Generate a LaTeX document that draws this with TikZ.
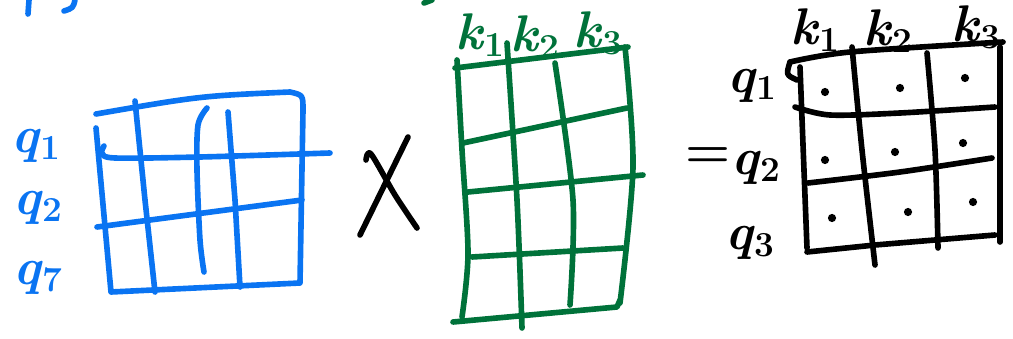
\documentclass[tikz,border=0pt]{standalone}
\usepackage{fontspec}
\usepackage{tikz}

\definecolor{penblue}{HTML}{0A74F2}
\definecolor{pengreen}{HTML}{00723A}

\newcommand{\sublbl}[2]{\textit{#1}\raisebox{-0.3ex}{\fontsize{30}{30}\selectfont #2}}

\tikzset{
  pen/.style={line width=4.8pt, line cap=round, line join=round},
  lbl/.style={inner sep=0pt, font=\fontsize{44}{44}\selectfont\bfseries},
  dotmark/.style={circle, fill=black, inner sep=0pt, minimum size=7pt},
}

\begin{document}
\begin{tikzpicture}[x=0.03cm,y=-0.03cm,>=latex]
\useasboundingbox (0,0) rectangle (1013,339);

% 上の切れた字
\draw[pen,penblue] (29,0) -- (28,14);
\draw[pen,penblue] (75,0) .. controls (73,8) .. (64,11);
\draw[pen,pengreen] (424,3) -- (432,0);

% 左の行列
\node[lbl,text=penblue] (qa1) at (36,146) {\sublbl{q}{1}};
\node[lbl,text=penblue] (qa2) at (38,208) {\sublbl{q}{2}};
\node[lbl,text=penblue] (qa3) at (38,278) {\sublbl{q}{7}};

\draw[pen,penblue] (96,128) -- (111,292) -- (300,283) -- (303,110)
  .. controls (303,95) .. (290,92) .. controls (200,96) .. (96,114);
\draw[pen,penblue] (135,101) -- (145,200) -- (155,292);
\draw[pen,penblue] plot[smooth] coordinates {(207,108) (198,125) (197,170) (200,240) (204,272)};
\draw[pen,penblue] (228,112) -- (235,200) -- (240,287);
\draw[pen,penblue] plot[smooth] coordinates {(104,146) (102,153) (115,158) (200,157) (330,153)};
\draw[pen,penblue] (97,227) -- (302,200);

% かける
\draw[pen,black] (408,137) -- (360,235);
\draw[pen,black] plot[smooth] coordinates {(366,160) (371,154) (395,195) (417,228)};

% 真ん中の行列
\node[lbl,text=pengreen] (ka1) at (480,35) {\sublbl{k}{1}};
\node[lbl,text=pengreen] (ka2) at (535,37) {\sublbl{k}{2}};
\node[lbl,text=pengreen] (ka3) at (598,33) {\sublbl{k}{3}};

\draw[pen,pengreen] (455,68) -- (628,47);
\draw[pen,pengreen] plot[smooth] coordinates {(457,60) (462,150) (468,253) (462,317)};
\draw[pen,pengreen] plot[smooth] coordinates {(625,47) (633,167) (620,303)};
\draw[pen,pengreen] (453,322) -- (617,307) -- (620,300);
\draw[pen,pengreen] plot[smooth] coordinates {(507,43) (517,200) (522,328)};
\draw[pen,pengreen] plot[smooth] coordinates {(555,63) (573,200) (570,305)};
\draw[pen,pengreen] (463,143) -- (627,108);
\draw[pen,pengreen] (468,192) -- (643,175);
\draw[pen,pengreen] (472,257) -- (623,248);

% 右の行列
\node[lbl] (kb1) at (815,30) {\sublbl{k}{1}};
\node[lbl] (kb2) at (888,31) {\sublbl{k}{2}};
\node[lbl] (kb3) at (976,27) {\sublbl{k}{3}};
\node[lbl] (qb1) at (752,86) {\sublbl{q}{1}};
\node[lbl] (eq) at (708,158) {=};
\node[lbl] (qb2) at (756,168) {\sublbl{q}{2}};
\node[lbl] (qb3) at (750,243) {\sublbl{q}{3}};

\draw[pen] plot[smooth] coordinates {(790,62) (850,52) (1003,42)};
\draw[pen] (790,62) .. controls (786,75) .. (797,80);
\draw[pen] (800,67) -- (807,248);
\draw[pen] (1000,47) -- (1000,242);
\draw[pen] (807,252) -- (875,245) -- (995,235);
\draw[pen] plot[smooth] coordinates {(852,47) (862,150) (875,265)};
\draw[pen] plot[smooth] coordinates {(927,53) (935,150) (938,248)};
\draw[pen] plot[smooth] coordinates {(795,107) (830,115) (900,113) (995,107)};
\draw[pen] plot[smooth] coordinates {(808,183) (900,172) (992,158)};

\node[dotmark] (c11) at (825,92) {};
\node[dotmark] (c12) at (900,88) {};
\node[dotmark] (c13) at (965,78) {};
\node[dotmark] (c21) at (825,160) {};
\node[dotmark] (c22) at (895,152) {};
\node[dotmark] (c23) at (963,143) {};
\node[dotmark] (c31) at (832,218) {};
\node[dotmark] (c32) at (908,212) {};
\node[dotmark] (c33) at (973,202) {};

\end{tikzpicture}
\end{document}
